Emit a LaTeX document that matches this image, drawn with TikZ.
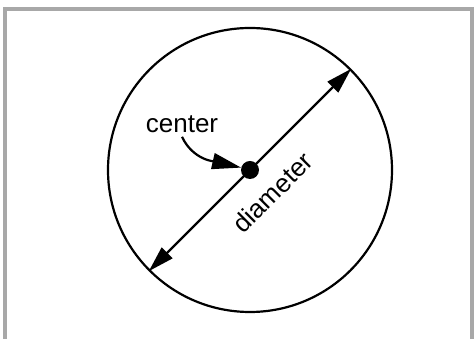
\documentclass[tikz,border=0pt]{standalone}
\usepackage{fontspec}
\setmainfont{Liberation Sans}
\usetikzlibrary{arrows.meta}
\definecolor{framegray}{RGB}{168,168,168}
\begin{document}
\begin{tikzpicture}[x=1pt, y=1pt,
		rim/.style = {circle, draw=black, line width=2.2pt, minimum size=284pt, inner sep=0},
		dot/.style = {circle, fill=black, minimum size=18pt, inner sep=0},
		lbl/.style = {font=\fontsize{26}{30}\selectfont},
		dia/.style = {{Triangle[length=26pt, width=15pt]}-{Triangle[length=26pt, width=15pt]}, line width=2.2pt},
		ptr/.style = {-{Triangle[length=29pt, width=16pt]}, line width=2.2pt}
		]
		\useasboundingbox (0,0) rectangle (474,339);
		\draw[framegray, line width=4pt] (5,0) -- (5,330) -- (472,330) -- (472,0);
		
		%Nodes
		\node[rim]	(circ)	at	(250, 169)	{};
		\node[dot]	(c)		at	(250, 169)	{};
		\node[lbl, anchor=base]	(ctext)	at	(182, 206)	{center};
		
		%Lines
		\draw[dia]	(circ.225)	--	node[lbl, sloped, below=18pt]	(dtext)	{diameter}	(circ.45);
		\draw[ptr]	(ctext.south)	to[out=-65, in=167]	(c.165);
	\end{tikzpicture}
\end{document}
